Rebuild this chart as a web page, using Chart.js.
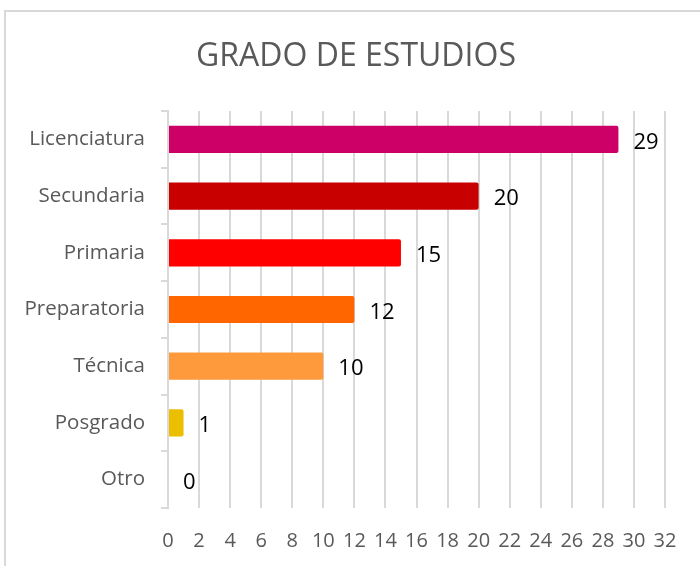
<!DOCTYPE html>
<html lang="es">
<head>
    <meta charset="UTF-8">
    <title>Grado de estudios</title>
    <script src="https://cdn.jsdelivr.net/npm/chart.js"></script>
    <style>
        html, body {
            margin: 0;
            padding: 0;
            background: #ffffff;
            overflow: hidden;
        }
        .frame {
            position: absolute;
            left: 4px;
            top: 10px;
            width: 800px;
            height: 700px;
            border: 2px solid #d9d9d9;
            box-sizing: border-box;
        }
        .chart-box {
            position: absolute;
            left: 0;
            top: 0;
            width: 700px;
            height: 566px;
        }
    </style>
</head>
<body>
    <div class="frame"></div>
    <div class="chart-box">
        <canvas id="estudios"></canvas>
    </div>

    <script>
        const chartTitle = 'GRADO DE ESTUDIOS';
        const categories = ['Licenciatura', 'Secundaria', 'Primaria', 'Preparatoria', 'Técnica', 'Posgrado', 'Otro'];
        const counts = [29, 20, 15, 12, 10, 1, 0];
        const barColors = ['#cc0066', '#c80000', '#ff0000', '#ff6600', '#ff9a3c', '#ebbf00', '#a5a5a5'];
        const xTicks = [0, 2, 4, 6, 8, 10, 12, 14, 16, 18, 20, 22, 24, 26, 28, 30, 32];

        const fontFamily = '"Open Sans", "Noto Sans", Arial, sans-serif';
        const textGray = '#595959';
        const gridGray = '#d9d9d9';

        // Heading centred on the whole frame rather than the plot area
        const heading = {
            id: 'heading',
            afterDraw(chart) {
                const ctx = chart.ctx;
                ctx.save();
                ctx.font = '32px ' + fontFamily;
                ctx.fillStyle = textGray;
                ctx.textAlign = 'center';
                ctx.textBaseline = 'middle';
                ctx.fillText(chartTitle, 356, 57);
                ctx.restore();
            }
        };

        // Writes each count just past the end of its bar
        const valueLabels = {
            id: 'valueLabels',
            afterDatasetsDraw(chart) {
                const ctx = chart.ctx;
                const meta = chart.getDatasetMeta(0);
                ctx.save();
                ctx.font = '22px ' + fontFamily;
                ctx.fillStyle = '#000000';
                ctx.textAlign = 'left';
                ctx.textBaseline = 'middle';
                meta.data.forEach((bar, i) => {
                    ctx.fillText(String(counts[i]), bar.x + 15, bar.y + 3);
                });
                ctx.restore();
            }
        };

        const ctx = document.getElementById('estudios').getContext('2d');
        new Chart(ctx, {
            type: 'bar',
            data: {
                labels: categories,
                datasets: [{
                    label: chartTitle,
                    data: counts,
                    backgroundColor: barColors,
                    borderWidth: 0,
                    borderRadius: 2,
                    borderSkipped: 'start',
                    barPercentage: 0.48,
                    categoryPercentage: 1
                }]
            },
            options: {
                indexAxis: 'y',
                responsive: true,
                maintainAspectRatio: false,
                animation: false,
                layout: {
                    padding: { top: 111, right: 35, bottom: 13, left: 0 }
                },
                plugins: {
                    legend: { display: false },
                    tooltip: { enabled: false },
                    title: { display: false }
                },
                scales: {
                    x: {
                        min: 0,
                        max: 32,
                        afterBuildTicks(scale) {
                            scale.ticks = xTicks.map(v => ({ value: v }));
                        },
                        afterFit(scale) {
                            scale.height = 45;
                        },
                        grid: {
                            color: gridGray,
                            lineWidth: 2,
                            drawTicks: false
                        },
                        border: { display: false },
                        ticks: {
                            color: textGray,
                            padding: 21,
                            maxRotation: 0,
                            autoSkip: false,
                            font: { family: fontFamily, size: 20 }
                        }
                    },
                    y: {
                        afterFit(scale) {
                            scale.width = 168;
                        },
                        grid: {
                            offset: true,
                            drawOnChartArea: false,
                            drawTicks: true,
                            tickLength: 7,
                            color: gridGray,
                            lineWidth: 2
                        },
                        border: { display: true, color: gridGray, width: 2 },
                        ticks: {
                            color: textGray,
                            padding: 16,
                            font: { family: fontFamily, size: 20.5 }
                        }
                    }
                }
            },
            plugins: [valueLabels, heading]
        });
    </script>
</body>
</html>
